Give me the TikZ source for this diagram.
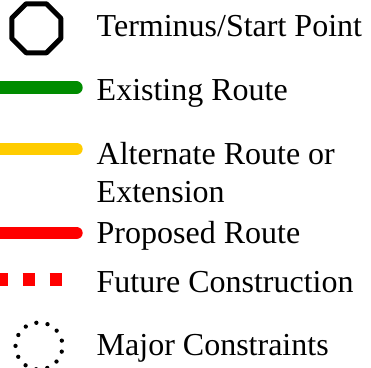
\documentclass[tikz,border=0pt]{standalone}
\usepackage{fontspec}
\setmainfont{Liberation Serif}
\usepackage{tikz}
\usetikzlibrary{calc}
\usepackage{tkz-euclide}
\usepackage{xcolor}
\definecolor{RouteGreen}{HTML}{008C00}
\definecolor{RouteYellow}{HTML}{FFCC00}
\definecolor{RouteRed}{HTML}{FF0000}

\begin{document}
\begin{tikzpicture}[x=1pt,y=-1pt,
    label text/.style={anchor=base west,inner sep=0pt,align=left,
      font=\fontsize{32}{38}\selectfont},
    route/.style={line width=12.6pt,line cap=round}]
   \useasboundingbox (0,0) rectangle (371,367);
   \tkzDefPoints{60.8/18.15/o1,46.45/3.8/o2,26.15/3.8/o3,11.8/18.15/o4,
     11.8/38.45/o5,26.15/52.8/o6,46.45/52.8/o7,60.8/38.45/o8}
   \tkzDefPoints{-10/87.7/ga,76.4/87.7/gb,-10/149/ya,76.4/149/yb,
     -10/233/ra,76.4/233/rb,-4.4/279.3/fa,62.3/279.3/fb,39/346/m}
   \tkzDrawPolygon[line width=5pt](o1,o2,o3,o4,o5,o6,o7,o8)
   \tkzDrawSegment[route,RouteGreen](ga,gb)
   \tkzDrawSegment[route,RouteYellow](ya,yb)
   \tkzDrawSegment[route,RouteRed](ra,rb)
   \tkzDrawSegment[RouteRed,line width=13.3pt,line cap=butt,
     dash pattern=on 12.7pt off 14.3pt](fa,fb)
   \draw[line width=4.3pt,line cap=round,dash pattern=on 0pt off 11.36pt,
     dash phase=5.68pt] (m) circle[radius=23.5];

   \node[label text] (term) at (96.5,36) {Terminus/Start Point};
   \node[label text] (exist) at (96.5,100) {Existing Route};
   \node[label text] (alt) at (96.5,202) {Alternate Route or\\Extension};
   \node[label text] (prop) at (96.5,243) {Proposed Route};
   \node[label text] (fut) at (96.5,292) {Future Construction};
   \node[label text] (major) at (96.5,355) {Major Constraints};
  \end{tikzpicture}
\end{document}
